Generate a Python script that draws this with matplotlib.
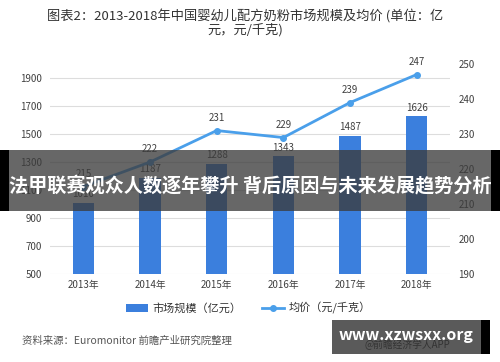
import numpy as np
import matplotlib
matplotlib.use('Agg')
import matplotlib.pyplot as plt
from matplotlib.patches import Rectangle

plt.rcParams['font.family'] = ['Noto Sans CJK SC', 'DejaVu Sans']

# ---------------- dane ----------------
lata = ['2013年', '2014年', '2015年', '2016年', '2017年', '2018年']
rynek = [1010, 1187, 1288, 1343, 1487, 1626]      # 市场规模（亿元）
cena = [215, 222, 231, 229, 239, 247]             # 均价（元/千克）
lewe_ticki = [500, 700, 900, 1100, 1300, 1500, 1700, 1900]
prawe_ticki = [190, 200, 210, 220, 230, 240, 250]

kolor_bar = '#3B7FDD'
kolor_linia = '#4A9FEA'
kolor_tekst = '#404040'

fig = plt.figure(figsize=(5, 3.62), dpi=100)
ax = fig.add_axes([0.1, 0.243, 0.8, 0.58])
ax2 = ax.twinx()

x = np.arange(len(lata))
ax.bar(x, rynek, width=0.32, bottom=0, color=kolor_bar, zorder=2,
       label='市场规模（亿元）')
ax.set_ylim(500, 2000)
ax.set_xlim(-0.5, len(lata) - 0.5)
ax.set_yticks(lewe_ticki)
ax.set_xticks(x)
ax.set_xticklabels(lata)
ax.grid(axis='y', color='#dddddd', linewidth=0.8, zorder=0)
ax.set_axisbelow(True)

for xi, v in zip(x, rynek):
    ax.text(xi, v + 25, str(v), ha='center', va='bottom', fontsize=7, color=kolor_tekst)

ax2.plot(x, cena, color=kolor_linia, linewidth=2, marker='o', markersize=4,
         zorder=3, label='均价（元/千克）')
ax2.set_ylim(190, 250)
ax2.set_yticks(prawe_ticki)
for xi, v in zip(x, cena):
    ax2.text(xi, v + 2.2, str(v), ha='center', va='bottom', fontsize=7, color=kolor_tekst)

for a in (ax, ax2):
    for s in a.spines.values():
        s.set_visible(False)
    a.tick_params(length=0, labelsize=7, colors=kolor_tekst, pad=6)
ax.tick_params(axis='x', pad=4)

fig.text(0.49, 0.955, '图表2：2013-2018年中国婴幼儿配方奶粉市场规模及均价 (单位：亿',
         ha='center', va='center', fontsize=9.5, color='#333333')
fig.text(0.49, 0.918, '元，元/千克)', ha='center', va='center', fontsize=9.5, color='#333333')

h1, l1 = ax.get_legend_handles_labels()
h2, l2 = ax2.get_legend_handles_labels()
fig.legend(h1 + h2, l1 + l2, loc='center', bbox_to_anchor=(0.497, 0.148), ncol=2,
           frameon=False, fontsize=8, handlelength=2.0, columnspacing=1.8,
           handletextpad=0.4, labelcolor='#333333')

fig.text(0.044, 0.06, '资料来源：Euromonitor 前瞻产业研究院整理', ha='left', va='center',
         fontsize=7.5, color='#555555')

# pasek z napisem na srodku
fig.patches.append(Rectangle((0.018, 0.417), 0.964, 0.168, transform=fig.transFigure,
                             facecolor='#3c3c3c', alpha=0.78, zorder=10))
fig.patches.append(Rectangle((0.0, 0.417), 0.018, 0.168, transform=fig.transFigure,
                             facecolor='black', zorder=10))
fig.patches.append(Rectangle((0.982, 0.417), 0.018, 0.168, transform=fig.transFigure,
                             facecolor='black', zorder=10))
fig.text(0.5, 0.485, '法甲联赛观众人数逐年攀升 背后原因与未来发展趋势分析', ha='center', va='center',
         fontsize=13.8, fontweight='bold', color='white', zorder=11)

# znak wodny w rogu
fig.patches.append(Rectangle((0.664, 0.022), 0.306, 0.094, transform=fig.transFigure,
                             facecolor='#5a5a5a', zorder=10))
fig.patches.append(Rectangle((0.962, 0.022), 0.018, 0.094, transform=fig.transFigure,
                             facecolor='black', zorder=10))
fig.text(0.815, 0.048, '@前瞻经济学人APP', ha='center', va='center', fontsize=7,
         color='#333333', zorder=11)
fig.text(0.812, 0.075, 'www.xzwsxx.org', ha='center', va='center', fontsize=11.5,
         fontweight='bold', color='white', zorder=12)

fig.savefig('out.png', dpi=100)
